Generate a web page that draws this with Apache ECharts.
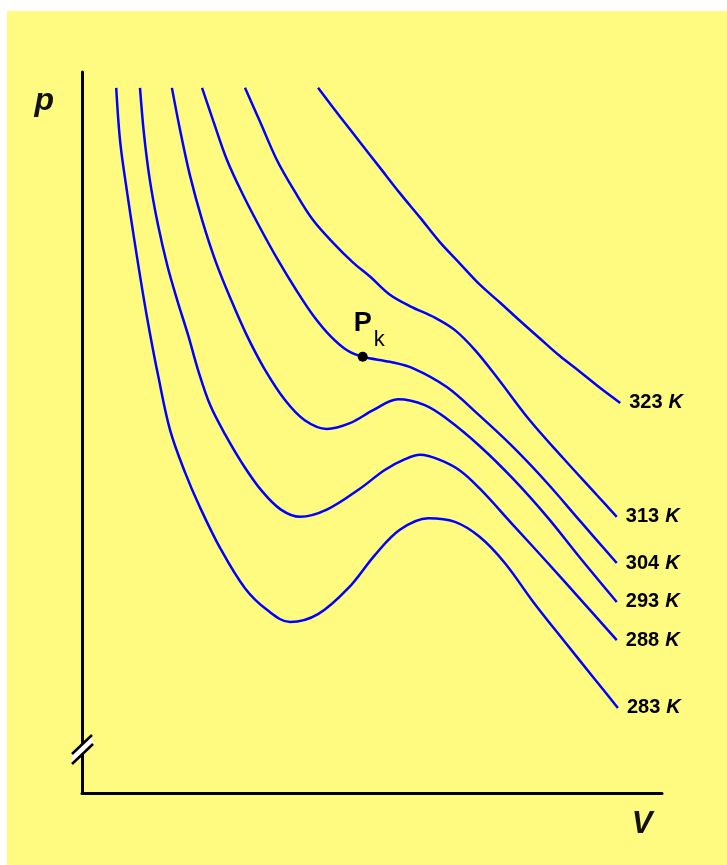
<!DOCTYPE html>
<html><head><meta charset="utf-8">
<script src="https://cdn.jsdelivr.net/npm/echarts@6/dist/echarts.min.js"></script>
<style>html,body{margin:0;padding:0;background:#fff;}#c{position:absolute;left:7px;top:11px;width:720px;height:854px;background:#FFFB80;}</style>
</head><body><div id="c"></div>
<script>
// Isotherm temperatures (K)
const temperatures = ['283', '288', '293', '304', '313', '323'];
// Isotherms: [V, p] in arbitrary units
const iso283 = [[0.59,9.78],[0.66,9.02],[0.78,8.32],[0.91,7.63],[1.05,6.93],[1.17,6.38],[1.31,5.80],[1.52,5.03],[1.78,4.44],[2.03,3.97],[2.38,3.40],[2.81,2.84],[3.19,2.54],[3.59,2.37],[4.07,2.48],[4.59,2.84],[5.05,3.30],[5.48,3.65],[5.97,3.81],[6.43,3.76],[6.86,3.55],[7.29,3.19],[7.78,2.65],[8.33,2.09],[8.81,1.61],[9.24,1.18]];
const iso288 = [[1.00,9.78],[1.07,9.13],[1.17,8.50],[1.31,7.88],[1.47,7.32],[1.64,6.84],[1.83,6.35],[2.00,5.87],[2.21,5.38],[2.47,4.97],[2.78,4.55],[3.10,4.19],[3.43,3.93],[3.76,3.83],[4.22,3.93],[4.79,4.22],[5.22,4.48],[5.57,4.63],[5.83,4.69],[6.17,4.62],[6.52,4.47],[6.86,4.22],[7.43,3.72],[8.02,3.20],[8.59,2.69],[9.22,2.12]];
const iso293 = [[1.55,9.78],[1.69,9.20],[1.86,8.57],[2.07,7.95],[2.31,7.36],[2.57,6.84],[2.84,6.35],[3.14,5.89],[3.50,5.45],[3.84,5.17],[4.22,5.05],[4.62,5.13],[5.02,5.31],[5.45,5.46],[5.91,5.38],[6.29,5.19],[6.86,4.81],[7.43,4.36],[8.02,3.83],[8.59,3.26],[9.22,2.65]];
const iso304 = [[2.07,9.78],[2.26,9.33],[2.50,8.78],[2.78,8.29],[3.07,7.84],[3.38,7.39],[3.69,6.98],[3.98,6.63],[4.28,6.34],[4.57,6.14],[4.84,6.05],[5.31,5.98],[5.71,5.89],[6.29,5.63],[6.86,5.23],[7.43,4.80],[8.02,4.30],[8.59,3.77],[9.22,3.19]];
const iso313 = [[2.81,9.78],[3.07,9.31],[3.36,8.78],[3.67,8.34],[3.98,7.95],[4.33,7.63],[4.67,7.36],[4.97,7.16],[5.31,6.91],[5.66,6.75],[6.09,6.59],[6.43,6.42],[6.78,6.14],[7.16,5.76],[7.72,5.17],[8.29,4.65],[8.88,4.13],[9.22,3.83]];
const iso323 = [[4.07,9.78],[4.45,9.38],[4.79,9.03],[5.14,8.67],[5.48,8.32],[5.83,7.98],[6.17,7.64],[6.52,7.34],[6.86,7.05],[7.21,6.80],[7.55,6.55],[7.90,6.30],[8.24,6.06],[8.59,5.84],[8.93,5.62],[9.28,5.41]];
const isotherms = [iso283, iso288, iso293, iso304, iso313, iso323];
// Critical point
const criticalPoint = [[4.84, 6.05]];
const criticalLabel = ['P', 'k'];
const axisTitles = ['V', 'p'];

const FONT = "'Liberation Sans', Arial, sans-serif";
const chart = echarts.init(document.getElementById('c'), null, {renderer: 'canvas'});

const lineSeries = isotherms.map((d, i) => ({
  type: 'line',
  name: temperatures[i] + ' K',
  data: d,
  smooth: 0.35,
  showSymbol: false,
  silent: true,
  lineStyle: {color: '#0000FF', width: 2.5},
  endLabel: {
    show: true,
    distance: 9,
    formatter: '{n|' + temperatures[i] + '}{k|K}',
    rich: {
      n: {fontFamily: FONT, fontSize: 20, color: '#000', fontWeight: 'bold'},
      k: {fontFamily: FONT, fontSize: 20, color: '#000', fontStyle: 'italic', fontWeight: 'bold', padding: [0, 0, 0, 6]}
    }
  },
  z: 3
}));

// break mark geometry (container px) around axis
const bx = 75, by = 738;
chart.setOption({
  animation: false,
  grid: {left: 75, top: 61, width: 580, height: 721},
  xAxis: {
    type: 'value', min: 0, max: 10,
    axisLine: {show: true, onZero: false, lineStyle: {color: '#000', width: 3}},
    axisTick: {show: false}, axisLabel: {show: false}, splitLine: {show: false}
  },
  yAxis: {
    type: 'value', min: 0, max: 10,
    name: axisTitles[1], nameLocation: 'end', nameGap: -29,
    nameTextStyle: {fontFamily: FONT, fontSize: 32, fontStyle: 'italic', fontWeight: 'bold', color: '#111',
      align: 'right', verticalAlign: 'middle', padding: [0, 28, 0, 0]},
    axisLine: {show: true, onZero: false, lineStyle: {color: '#000', width: 3}},
    axisTick: {show: false}, axisLabel: {show: false}, splitLine: {show: false}
  },
  series: lineSeries.concat([{
    type: 'scatter',
    data: criticalPoint,
    symbol: 'circle',
    symbolSize: 10,
    itemStyle: {color: '#000', opacity: 1},
    z: 5,
    label: {
      show: true,
      color: '#000',
      opacity: 1,
      position: [-4, -42],
      formatter: '{P|' + criticalLabel[0] + '}{k|' + criticalLabel[1] + '}',
      rich: {
        P: {fontFamily: FONT, fontSize: 27, fontWeight: 'bold', color: '#000', verticalAlign: 'top', padding: [0, 0, 14, 0]},
        k: {fontFamily: FONT, fontSize: 22, color: '#000', padding: [0, 0, 0, 2], verticalAlign: 'bottom'}
      }
    }
  }]),
  graphic: [
    {type: 'text', z: 100, x: 635, y: 813,
      style: {text: axisTitles[0], fontFamily: FONT, fontSize: 31, fontStyle: 'italic', fontWeight: 'bold', fill: '#111',
        align: 'center', verticalAlign: 'middle'}},
    {type: 'polygon', z: 100, shape: {points: [[bx - 10, by + 5], [bx + 10, by - 14], [bx + 11, by - 5], [bx - 10, by + 15]]},
      style: {fill: '#ffffff'}},
    {type: 'line', z: 101, shape: {x1: bx - 10, y1: by + 5, x2: bx + 10, y2: by - 14}, style: {stroke: '#000', lineWidth: 2.5}},
    {type: 'line', z: 101, shape: {x1: bx - 10, y1: by + 15, x2: bx + 11, y2: by - 5}, style: {stroke: '#000', lineWidth: 2.5}}
  ]
});
</script></body></html>
